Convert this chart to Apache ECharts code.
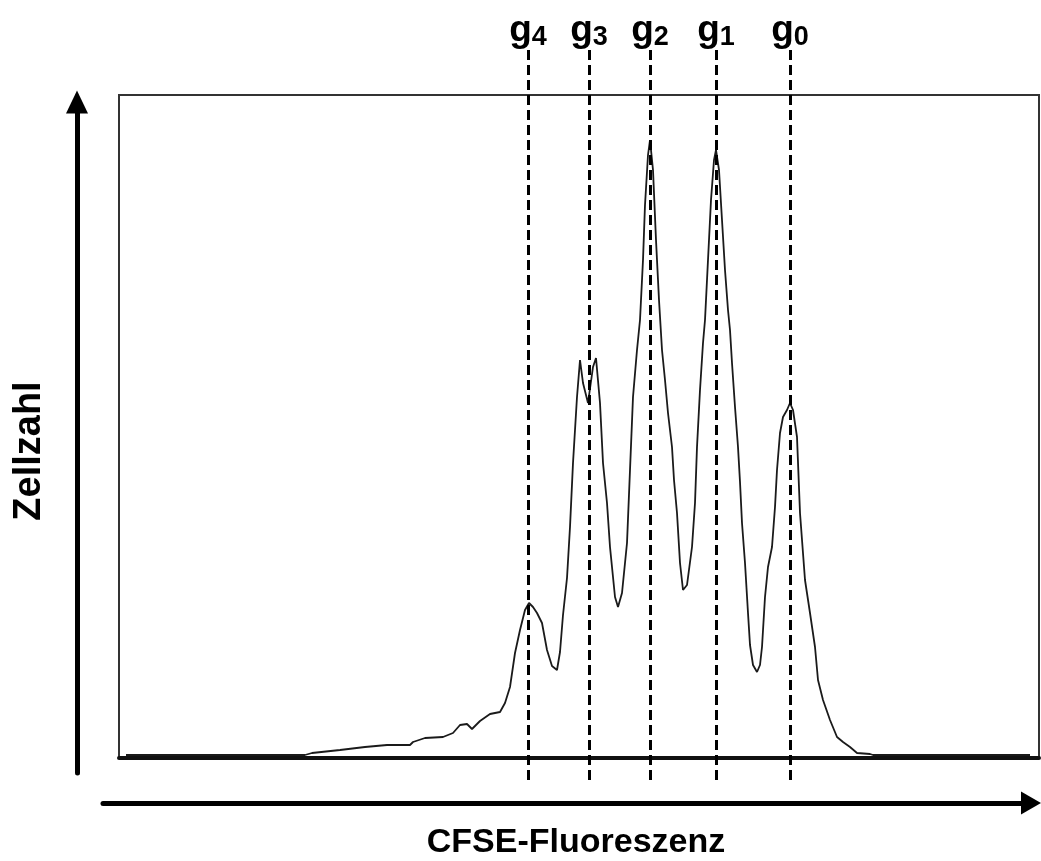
<!DOCTYPE html>
<html>
<head>
<meta charset="utf-8">
<script src="https://cdn.jsdelivr.net/npm/echarts@6/dist/echarts.min.js"></script>
<style>
  html, body { margin: 0; padding: 0; background: #fff; }
  #chart { width: 1041px; height: 861px; }
</style>
</head>
<body>
<div id="chart"></div>
<script>
// CFSE-Histogramm: Kanal (Fluoreszenz) und Zellzahl
const channel = [7, 186, 193, 221, 223, 246, 268, 291, 294, 306, 324, 334, 341, 348, 353, 361, 371, 381,
    386, 391, 396, 401, 406, 410, 414, 418, 423, 428, 433, 438, 441, 444, 448, 451, 454, 458, 461, 464,
    469, 474, 477, 481, 484, 488, 491, 496, 499, 503, 508, 511, 514, 518, 521, 524, 526, 529, 531, 534,
    537, 540, 543, 546, 549, 553, 555, 558, 561, 564, 568, 573, 576, 578, 581, 584, 586, 589, 592, 595,
    597, 600, 603, 606, 609, 611, 613, 616, 619, 621, 623, 626, 629, 631, 634, 638, 641, 643, 646, 649,
    653, 656, 658, 661, 664, 668, 671, 674, 678, 681, 686, 691, 696, 699, 704, 711, 718, 724, 731, 738,
    751, 754, 911];
const cellCount = [0, 0, 2, 5, 7, 8, 10, 10, 13, 17, 18, 22, 30, 31, 26, 34, 41, 43,
    52, 68, 102, 125, 145, 152, 148, 142, 132, 105, 89, 85, 103, 140, 177, 228, 292, 358, 395, 372,
    352, 388, 397, 352, 292, 252, 208, 158, 148, 162, 212, 285, 358, 405, 435, 495, 550, 600, 615, 585,
    515, 455, 405, 375, 342, 308, 275, 242, 192, 165, 170, 208, 252, 308, 365, 412, 435, 495, 555, 595,
    605, 585, 535, 485, 445, 425, 392, 348, 308, 273, 232, 192, 142, 110, 90, 83, 90, 108, 158, 188,
    208, 248, 285, 322, 338, 345, 352, 345, 318, 242, 175, 142, 108, 75, 55, 35, 18, 13, 8, 2,
    1, 0, 0];
// Generationen g4 ... g0 (Kanalposition der Peaks)
const genChannels = [409, 470, 531, 597, 671];
const genLabels = ['4', '3', '2', '1', '0'];

const fontFamily = '"Liberation Sans", Arial, sans-serif';

const chart = echarts.init(document.getElementById('chart'));

const option = {
    backgroundColor: '#fff',
    animation: false,
    grid: [
        // Histogramm-Rahmen
        { left: 119, top: 95, width: 920, height: 663, show: true, borderColor: '#333', borderWidth: 2, backgroundColor: 'transparent' },
        // y-Pfeil
        { left: 77, top: 102, width: 1, height: 671 },
        // x-Pfeil
        { left: 103, top: 802, width: 928, height: 1 },
        // gestrichelte Generationslinien
        { left: 119, top: 48, width: 920, height: 732 }
    ],
    xAxis: [
        {
            gridIndex: 0, type: 'value', min: 0, max: 920,
            axisLine: { show: true, onZero: false, lineStyle: { color: '#111', width: 4 } },
            axisTick: { show: false }, axisLabel: { show: false }, splitLine: { show: false }
        },
        { gridIndex: 1, type: 'value', show: false },
        {
            gridIndex: 2, type: 'value', position: 'top', min: 0, max: 1,
            axisLine: { show: true, symbol: ['none', 'triangle'], symbolSize: [23, 20], lineStyle: { color: '#000', width: 5 } },
            axisTick: { show: false }, axisLabel: { show: false }, splitLine: { show: false }
        },
        { gridIndex: 3, type: 'value', min: 0, max: 920, show: false }
    ],
    yAxis: [
        {
            gridIndex: 0, type: 'value', min: -3, max: 660,
            axisLine: { show: false }, axisTick: { show: false }, axisLabel: { show: false }, splitLine: { show: false }
        },
        {
            gridIndex: 1, type: 'value', min: 0, max: 1,
            axisLine: { show: true, onZero: false, symbol: ['none', 'triangle'], symbolSize: [22, 23], lineStyle: { color: '#000', width: 5 } },
            axisTick: { show: false }, axisLabel: { show: false }, splitLine: { show: false }
        },
        { gridIndex: 2, type: 'value', show: false },
        { gridIndex: 3, type: 'value', min: 0, max: 1, show: false }
    ],
    series: [
        {
            name: 'Zellzahl',
            type: 'line',
            xAxisIndex: 0,
            yAxisIndex: 0,
            data: channel.map((c, i) => [c, cellCount[i]]),
            showSymbol: false,
            smooth: false,
            lineStyle: { color: '#1a1a1a', width: 1.8 },
            silent: true
        },
        {
            name: 'Generationen',
            type: 'line',
            xAxisIndex: 3,
            yAxisIndex: 3,
            data: [],
            silent: true,
            markLine: {
                silent: true,
                symbol: ['none', 'none'],
                lineStyle: { color: '#000', width: 3, type: [10, 5] },
                label: {
                    show: true,
                    position: 'end',
                    distance: -3,
                    color: '#000',
                    formatter: p => '{g|g}{s|' + p.data.gen + '}',
                    rich: {
                        g: { fontSize: 37, fontWeight: 'bold', fontFamily: fontFamily, color: '#000' },
                        s: { fontSize: 27, fontWeight: 'bold', fontFamily: fontFamily, color: '#000', verticalAlign: 'bottom', padding: [14, 0, 0, 0] }
                    }
                },
                data: genChannels.map((c, i) => [
                    { coord: [c, 0], gen: genLabels[i] },
                    { coord: [c, 1] }
                ])
            }
        }
    ],
    graphic: [
        {
            type: 'text',
            x: 30,
            y: 451,
            rotation: Math.PI / 2,
            style: { text: 'Zellzahl', font: 'bold 38px ' + fontFamily, fill: '#000', align: 'center', verticalAlign: 'middle' }
        },
        {
            type: 'text',
            x: 576,
            y: 843,
            style: { text: 'CFSE-Fluoreszenz', font: 'bold 34px ' + fontFamily, fill: '#000', align: 'center', verticalAlign: 'middle' }
        }
    ]
};

chart.setOption(option);
window.addEventListener('resize', function() {
    chart.resize();
});
</script>
</body>
</html>
